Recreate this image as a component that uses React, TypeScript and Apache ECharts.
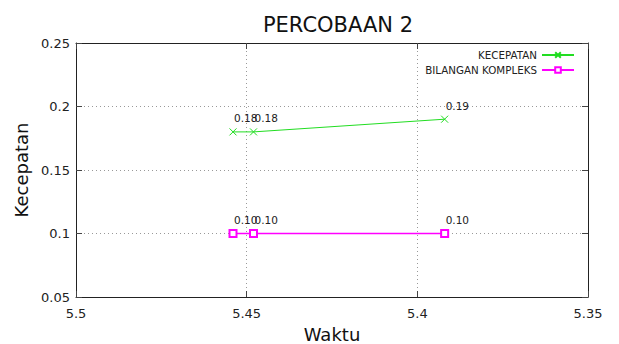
import React, { useEffect, useRef } from "react";
import * as echarts from "echarts";

const waktu = [5.454, 5.448, 5.392];
const kecepatan = [0.18, 0.18, 0.19];
const bilanganKompleks = [0.1, 0.1, 0.1];
const seriesNames = ["KECEPATAN", "BILANGAN KOMPLEKS"];
const chartTitle = "PERCOBAAN 2";
const xName = "Waktu";
const yName = "Kecepatan";

const FONT = "DejaVu Sans";
const GREEN = "#22dd22";
const MAGENTA = "#ff00ff";

export default function App() {
  const ref = useRef<HTMLDivElement>(null);
  useEffect(() => {
    if (!ref.current) return;
    const chart = echarts.init(ref.current, null, { renderer: "svg" });
    const fmt = (v: number) => String(parseFloat(v.toFixed(2)));
    const makeLabel = () => ({
      show: true,
      position: "top",
      distance: 4,
      align: "left",
      offset: [1, 0],
      fontFamily: FONT,
      fontSize: 10.5,
      color: "#222",
      formatter: (p: any) => (p.value[1] as number).toFixed(2),
    });
    const gridLine = { show: true, lineStyle: { type: [1, 3], color: "#999", width: 1 } };
    const tick = { show: true, inside: true, length: 6, lineStyle: { color: "#444" } };
    const line = { show: true, lineStyle: { color: "#222", width: 1 } };
    const legendBase = {
      right: 44,
      padding: 0,
      align: "right",
      itemWidth: 32,
      itemHeight: 7,
      textStyle: { fontFamily: FONT, fontSize: 10.3, color: "#222" },
    };
    chart.setOption({
      animation: false,
      color: [GREEN, MAGENTA],
      title: {
        text: chartTitle,
        left: 333,
        top: 9,
        textAlign: "center",
        textStyle: { fontFamily: FONT, fontSize: 21, fontWeight: "normal", color: "#111" },
      },
      grid: { left: 76, right: 31, top: 43, bottom: 47, outerBoundsMode: "none" },
      legend: [
        { ...legendBase, data: [seriesNames[0]], top: 50 },
        { ...legendBase, data: [seriesNames[1]], top: 65 },
      ],
      xAxis: [
        {
          type: "value",
          min: 5.35,
          max: 5.5,
          interval: 0.05,
          inverse: true,
          name: xName,
          nameLocation: "middle",
          nameGap: 28,
          nameTextStyle: { fontFamily: FONT, fontSize: 18, color: "#111" },
          axisLine: line,
          axisTick: tick,
          splitLine: gridLine,
          axisLabel: { fontFamily: FONT, fontSize: 13, color: "#222", margin: 10, formatter: fmt },
        },
        {
          type: "value",
          position: "top",
          min: 5.35,
          max: 5.5,
          interval: 0.05,
          inverse: true,
          axisLine: line,
          axisTick: tick,
          splitLine: { show: false },
          axisLabel: { show: false },
        },
      ],
      yAxis: [
        {
          type: "value",
          min: 0.05,
          max: 0.25,
          interval: 0.05,
          name: yName,
          nameLocation: "middle",
          nameGap: 37,
          nameTextStyle: { fontFamily: FONT, fontSize: 18, color: "#111" },
          axisLine: line,
          axisTick: tick,
          splitLine: gridLine,
          axisLabel: { fontFamily: FONT, fontSize: 13, color: "#222", margin: 6, formatter: fmt },
        },
        {
          type: "value",
          position: "right",
          min: 0.05,
          max: 0.25,
          interval: 0.05,
          axisLine: line,
          axisTick: tick,
          splitLine: { show: false },
          axisLabel: { show: false },
        },
      ],
      series: [
        {
          name: seriesNames[0],
          type: "line",
          data: waktu.map((x, i) => [x, kecepatan[i]]),
          symbol: "path://M0,0L10,10M10,0L0,10",
          symbolSize: 7,
          showAllSymbol: true,
          lineStyle: { color: GREEN, width: 1 },
          itemStyle: { color: GREEN, borderColor: GREEN, borderWidth: 1 },
          label: makeLabel(),
        },
        {
          name: seriesNames[1],
          type: "line",
          data: waktu.map((x, i) => [x, bilanganKompleks[i]]),
          symbol: "emptyRect",
          symbolSize: 7,
          showAllSymbol: true,
          lineStyle: { color: MAGENTA, width: 1.5 },
          itemStyle: { color: MAGENTA, borderWidth: 1 },
          label: makeLabel(),
        },
      ],
    });
    return () => chart.dispose();
  }, []);
  return (
    <div
      ref={ref}
      style={{ position: "fixed", left: 0, top: 0, width: 619, height: 344, background: "#fff" }}
    />
  );
}
